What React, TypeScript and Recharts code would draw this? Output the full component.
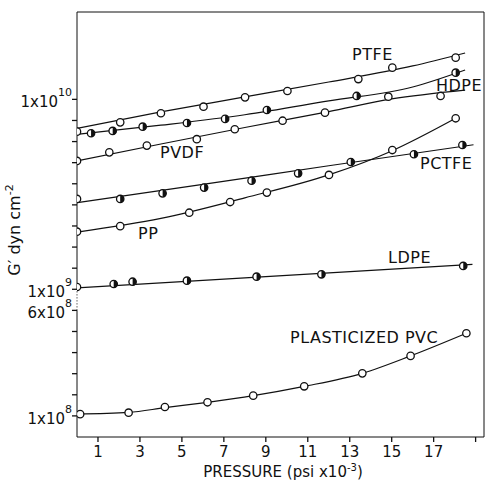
import React from 'react';
import { ComposedChart, Line, Scatter, XAxis, YAxis, ReferenceLine } from 'recharts';

// pressure in psi x 10^-3, G' in dyn cm^-2
const ptfeP = [0, 2.06, 4.0, 6.03, 8.01, 10.03, 13.41, 15.03, 18.05];
const ptfeG = [6.76e9, 7.57e9, 8.45e9, 9.15e9, 1.025e10, 1.107e10, 1.279e10, 1.469e10, 1.658e10];
const ptfeFitP = [0, 4, 8, 12, 16, 18.5];
const ptfeFitG = [7.03e9, 8.59e9, 1.03e10, 1.234e10, 1.5e10, 1.755e10];

const hdpeP = [0.67, 1.7, 3.13, 5.24, 7.06, 9.05, 13.33, 18.05];
const hdpeG = [6.63e9, 6.82e9, 7.18e9, 7.51e9, 7.89e9, 8.79e9, 1.042e10, 1.382e10];
const hdpeFitP = [0, 4, 8, 12, 16, 18.5];
const hdpeFitG = [6.54e9, 7.31e9, 8.3e9, 9.81e9, 1.162e10, 1.428e10];

const pvdfP = [0, 1.54, 3.33, 5.71, 7.52, 9.8, 11.82, 14.84, 17.33];
const pvdfG = [4.74e9, 5.26e9, 5.71e9, 6.17e9, 6.96e9, 7.72e9, 8.51e9, 1.033e10, 1.042e10];
const pvdfFitP = [0, 4, 8, 12, 15, 18.5];
const pvdfFitG = [4.74e9, 5.82e9, 7.11e9, 8.61e9, 1.005e10, 1.119e10];

const pctfeP = [0, 2.06, 4.08, 6.06, 8.32, 10.54, 13.05, 16.06, 18.37];
const pctfeG = [2.99e9, 2.99e9, 3.2e9, 3.43e9, 3.73e9, 4.08e9, 4.68e9, 5.14e9, 5.75e9];
const pctfeFitP = [0, 6, 12, 18.9];
const pctfeFitG = [2.86e9, 3.57e9, 4.47e9, 5.77e9];

const ppP = [0, 2.06, 5.35, 7.3, 9.05, 12.01, 15.03, 18.05];
const ppG = [2.01e9, 2.15e9, 2.53e9, 2.88e9, 3.23e9, 4.0e9, 5.41e9, 7.95e9];
const ppFitP = [0, 4, 8, 12, 15, 18.05];
const ppFitG = [2.0e9, 2.36e9, 3.03e9, 4.0e9, 5.35e9, 7.95e9];

const ldpeP = [0, 1.75, 2.65, 5.24, 8.56, 11.65, 18.41];
const ldpeG = [1.028e9, 1.066e9, 1.096e9, 1.11e9, 1.165e9, 1.199e9, 1.327e9];
const ldpeFitP = [0, 9, 18.85];
const ldpeFitG = [1.016e9, 1.165e9, 1.354e9];

const pvcP = [0.15, 2.46, 4.19, 6.22, 8.4, 10.83, 13.6, 15.9, 18.56];
const pvcG = [1.03e8, 1.056e8, 1.163e8, 1.26e8, 1.41e8, 1.653e8, 2.06e8, 2.77e8, 4.07e8];
const pvcFitP = [0, 2.46, 4.19, 6.22, 8.4, 10.83, 13.6, 15.9, 18.56];
const pvcFitG = [1.03e8, 1.06e8, 1.15e8, 1.26e8, 1.41e8, 1.65e8, 2.06e8, 2.77e8, 4.07e8];

const xTicks = [1, 3, 5, 7, 9, 11, 13, 15, 17, 19];
const yLabelValues = [1e8, 6e8, 1e9, 1e10];
const yLabelText = ['1x10', '6x10', '1x10', '1x10'];
const yLabelExp = ['8', '8', '9', '10'];

// broken axis: upper part log 1e9..1e10 over 9 tick steps, lower part 1e8..6e8 over 5 steps
const axisPos = (g: number) =>
  g >= 1e9 ? 7 + 9 * Math.log10(g / 1e9) : 1 + (5 * Math.log10(g / 1e8)) / Math.log10(6);

const X_MAX = 19.4;
const Y_MAX = 20.14;
const yTicks = [1, 2, 3, 4, 5, 6, 7, 8, 9, 10, 11, 12, 13, 14, 15, 16];
const ink = '#111';
const font = '"DejaVu Sans", sans-serif';

const rows = (ps: number[], gs: number[]) => ps.map((p, i) => ({ p, u: axisPos(gs[i]) }));

const series = [
  { name: 'PTFE', pts: rows(ptfeP, ptfeG), fit: rows(ptfeFitP, ptfeFitG), half: false },
  { name: 'HDPE', pts: rows(hdpeP, hdpeG), fit: rows(hdpeFitP, hdpeFitG), half: true },
  { name: 'PVDF', pts: rows(pvdfP, pvdfG), fit: rows(pvdfFitP, pvdfFitG), half: false },
  { name: 'PCTFE', pts: rows(pctfeP, pctfeG), fit: rows(pctfeFitP, pctfeFitG), half: true },
  { name: 'PP', pts: rows(ppP, ppG), fit: rows(ppFitP, ppFitG), half: false },
  { name: 'LDPE', pts: rows(ldpeP, ldpeG), fit: rows(ldpeFitP, ldpeFitG), half: true },
  { name: 'PVC', pts: rows(pvcP, pvcG), fit: rows(pvcFitP, pvcFitG), half: false },
];

const Marker = (props: any) => {
  const { cx, cy, payload, half } = props;
  if (cx == null || cy == null) return <g />;
  const r = 3.7;
  const filled = half && payload.p > 0;
  return (
    <g>
      <circle cx={cx} cy={cy} r={r} fill="#fff" stroke={ink} strokeWidth={1.3} />
      {filled && <path d={`M${cx},${cy - r} A${r},${r} 0 0 1 ${cx},${cy + r} Z`} fill={ink} />}
    </g>
  );
};

// y tick: short mark to the left of the axis plus the power-of-ten label where there is one
const YTick = (props: any) => {
  const { x, y, payload } = props;
  const i = yLabelValues.findIndex((v) => Math.abs(axisPos(v) - payload.value) < 1e-6);
  return (
    <g>
      <line x1={x} y1={y} x2={x + 5} y2={y} stroke={ink} strokeWidth={1.3} />
      {i >= 0 && (
        <text x={x} y={y + 8} textAnchor="end" fontFamily={font} fontSize={15} fill={ink}>
          {yLabelText[i]}
          <tspan dy={-11} fontSize={11}>{yLabelExp[i]}</tspan>
        </text>
      )}
    </g>
  );
};

const XTick = (props: any) => {
  const { x, y, payload } = props;
  return (
    <g>
      <line x1={x} y1={y - 5} x2={x} y2={y} stroke={ink} strokeWidth={1.3} />
      {payload.value !== 19 && (
        <text x={x} y={y + 15} textAnchor="middle" fontFamily={font} fontSize={15} fill={ink}>
          {payload.value}
        </text>
      )}
    </g>
  );
};

const seriesLabels = [
  { text: 'PTFE', x: 352, y: 60 },
  { text: 'HDPE', x: 436, y: 91 },
  { text: 'PVDF', x: 160, y: 158 },
  { text: 'PCTFE', x: 420, y: 169 },
  { text: 'PP', x: 138, y: 239 },
  { text: 'LDPE', x: 388, y: 263 },
  { text: 'PLASTICIZED PVC', x: 290, y: 343 },
];

export default function App() {
  return (
    <div style={{ position: 'absolute', left: 0, top: 0, width: 486, height: 480, background: '#fff' }}>
      <ComposedChart width={486} height={480} margin={{ top: 12, right: 2, left: 0, bottom: 0 }}>
        <XAxis
          dataKey="p"
          type="number"
          domain={[0, X_MAX]}
          ticks={xTicks}
          interval={0}
          allowDataOverflow
          height={43}
          tickSize={5}
          tickMargin={0}
          tickLine={false}
          stroke={ink}
          tick={<XTick />}
        />
        <YAxis
          dataKey="u"
          type="number"
          domain={[0, Y_MAX]}
          ticks={yTicks}
          interval={0}
          width={77}
          tickSize={5}
          tickMargin={0}
          axisLine={false}
          tickLine={false}
          stroke={ink}
          tick={<YTick />}
        />
        <ReferenceLine segment={[{ x: 0, y: 0 }, { x: 0, y: 6 }]} stroke={ink} />
        <ReferenceLine segment={[{ x: 0, y: 6 }, { x: 0, y: 7 }]} stroke={ink} strokeDasharray="1 2" />
        <ReferenceLine segment={[{ x: 0, y: 7 }, { x: 0, y: Y_MAX }]} stroke={ink} />
        <ReferenceLine y={Y_MAX} stroke={ink} />
        <ReferenceLine x={X_MAX} stroke={ink} />
        {series.map((s) => (
          <Line
            key={s.name + '-fit'}
            data={s.fit}
            dataKey="u"
            type="monotone"
            stroke={ink}
            strokeWidth={1.2}
            dot={false}
            isAnimationActive={false}
          />
        ))}
        {series.map((s) => (
          <Scatter
            key={s.name + '-pts'}
            data={s.pts}
            dataKey="u"
            isAnimationActive={false}
            shape={(p: any) => <Marker {...p} half={s.half} />}
          />
        ))}
      </ComposedChart>
      <svg
        width={486}
        height={480}
        style={{ position: 'absolute', left: 0, top: 0, pointerEvents: 'none' }}
        fontFamily={font}
        fill={ink}
      >
        {seriesLabels.map((l) => (
          <text key={l.text} x={l.x} y={l.y} fontSize={16} letterSpacing={0.5}>
            {l.text}
          </text>
        ))}
        <text x={283} y={477} fontSize={15} textAnchor="middle">
          PRESSURE (psi x10<tspan dy={-6} fontSize={10}>-3</tspan>
          <tspan dy={6}>)</tspan>
        </text>
        <text x={20} y={230} fontSize={16} textAnchor="middle" transform="rotate(-90 20 230)">
          G′ dyn cm<tspan dy={-7} fontSize={11}>-2</tspan>
        </text>
      </svg>
    </div>
  );
}
